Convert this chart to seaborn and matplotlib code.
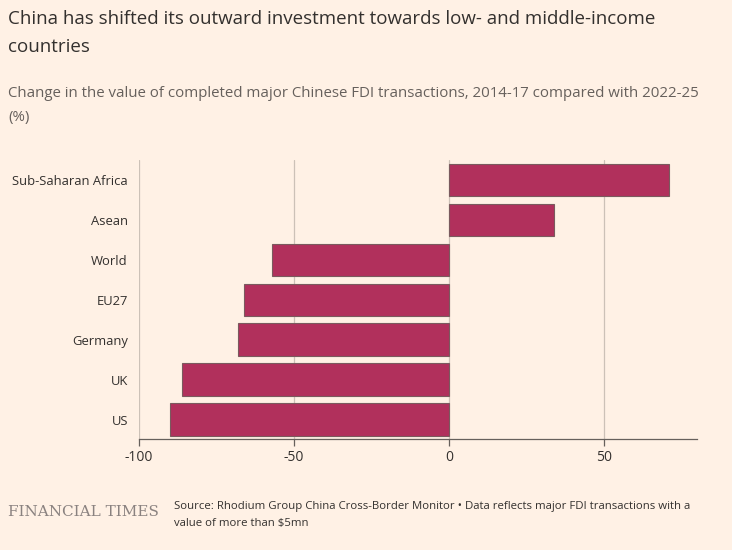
import matplotlib
matplotlib.use("Agg")
import matplotlib.pyplot as plt
import seaborn as sns
import pandas as pd

regions = ["Sub-Saharan Africa", "Asean", "World", "EU27", "Germany", "UK", "US"]
change_pct = [71, 34, -57, -66, -68, -86, -90]
x_ticks = [-100, -50, 0, 50]

BG = "#FFF1E5"
BAR = "#B1305C"
TEXT = "#33302E"
GREY = "#66605C"
GRID = "#CCC1B7"

sns.set_theme(style="white")
plt.rcParams["font.family"] = ["Open Sans", "DejaVu Sans"]

df = pd.DataFrame({"region": regions, "change": change_pct})

fig = plt.figure(figsize=(7.32, 5.5), dpi=100, facecolor=BG)
ax = fig.add_axes([139/732, 1 - 439/550, (697-139)/732, (439-160)/550])
ax.set_facecolor(BG)

sns.barplot(data=df, x="change", y="region", orient="h", color=BAR,
            width=0.82, edgecolor="#7A5A5E", linewidth=0.8, saturation=1, ax=ax,
            zorder=3)

ax.set_xlim(-100, 80)
ax.set_ylim(6.48, -0.5)
ax.set_xticks(x_ticks)
ax.set_xticklabels([str(t) for t in x_ticks], fontsize=10, color=TEXT)
ax.xaxis.grid(True, color=GRID, linewidth=0.9, zorder=0)
ax.yaxis.grid(False)
ax.set_axisbelow(True)
ax.set_xlabel("")
ax.set_ylabel("")
for s in ["top", "right", "left"]:
    ax.spines[s].set_visible(False)
ax.spines["bottom"].set_color(GREY)
ax.spines["bottom"].set_linewidth(0.9)
ax.tick_params(axis="x", bottom=True, length=5, width=0.9, color=GREY, pad=3)
ax.tick_params(axis="y", left=False, length=0, pad=8, labelsize=9.4, labelcolor=TEXT)

fig.text(8/732, 1 - 24/550, "China has shifted its outward investment towards low- and middle-income",
         fontsize=13.5, color=TEXT, va="baseline", ha="left")
fig.text(8/732, 1 - 52/550, "countries",
         fontsize=13.5, color=TEXT, va="baseline", ha="left")
fig.text(8/732, 1 - 97/550,
         "Change in the value of completed major Chinese FDI transactions, 2014-17 compared with 2022-25",
         fontsize=10.8, color=GREY, va="baseline", ha="left")
fig.text(8/732, 1 - 121/550, "(%)", fontsize=10.8, color=GREY, va="baseline", ha="left")

fig.text(8/732, 1 - 516/550, "FINANCIAL TIMES", fontsize=11, color="#8A8280",
         family=["DejaVu Serif"], va="baseline", ha="left")
fig.text(174/732, 1 - 509/550,
         "Source: Rhodium Group China Cross-Border Monitor \u2022 Data reflects major FDI transactions with a",
         fontsize=8.2, color=TEXT, va="baseline", ha="left")
fig.text(174/732, 1 - 526/550, "value of more than $5mn",
         fontsize=8.2, color=TEXT, va="baseline", ha="left")

fig.savefig("out.png", dpi=100, facecolor=BG)
